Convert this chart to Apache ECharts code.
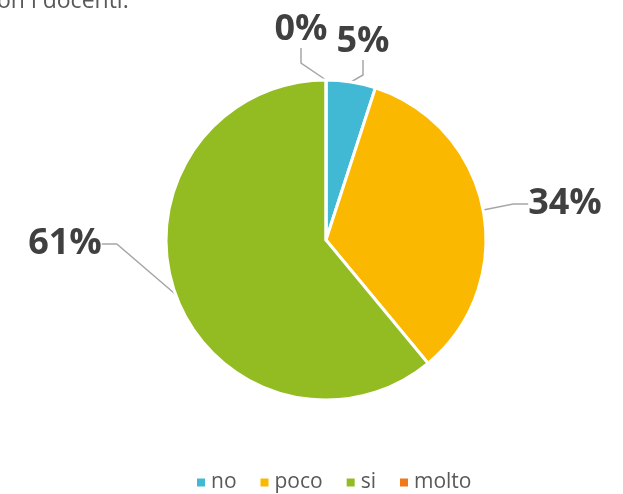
<!DOCTYPE html>
<html><head><meta charset="utf-8">
<script src="https://cdn.jsdelivr.net/npm/echarts@6/dist/echarts.min.js"></script>
<style>html,body{margin:0;padding:0;background:#fff}#c{width:623px;height:494px}</style>
</head><body><div id="c"></div>
<script>
const categories = ['no', 'poco', 'si', 'molto'];
const values = [5, 34, 61, 0];
const labels = ['5%', '34%', '61%', '0%'];
const colors = ['#41B9D5', '#FBB800', '#92BC22', '#F07818'];
const titleText = 'con i docenti.';

// label anchor positions (text centres), by data index
const labelPos = [[363, 42], [565, 204], [65, 244], [301, 30]];

const chart = echarts.init(document.getElementById('c'), null, {renderer: 'canvas'});
chart.setOption({
  animation: false,
  title: {
    text: titleText, left: -19, top: -15,
    textStyle: {fontFamily: 'Open Sans', fontWeight: 'normal', fontSize: 23, color: '#595959'}
  },
  legend: {
    top: 467, left: 190, itemWidth: 10, itemHeight: 10, itemGap: 22,
    icon: 'rect',
    textStyle: {fontFamily: 'Open Sans', fontSize: 21, color: '#595959'},
    data: categories
  },
  series: [{
    type: 'pie',
    center: [326, 240], radius: [0, 160],
    startAngle: 90, clockwise: true,
    minShowLabelAngle: -1,
    stillShowZeroSum: true,
    itemStyle: {borderColor: '#fff', borderWidth: 3},
    label: {
      show: true,
      formatter: p => labels[p.dataIndex],
      fontFamily: 'Open Sans', fontWeight: 'bold', fontSize: 36, color: '#404040'
    },
    labelLine: {show: true, length: 20, length2: 15, lineStyle: {color: '#A6A6A6', width: 1.5}},
    labelLayout: p => ({
      x: labelPos[p.dataIndex][0], y: labelPos[p.dataIndex][1],
      align: 'center', verticalAlign: 'middle'
    }),
    data: categories.map((c, i) => ({name: c, value: values[i], itemStyle: {color: colors[i]}}))
  }]
});
</script></body></html>
